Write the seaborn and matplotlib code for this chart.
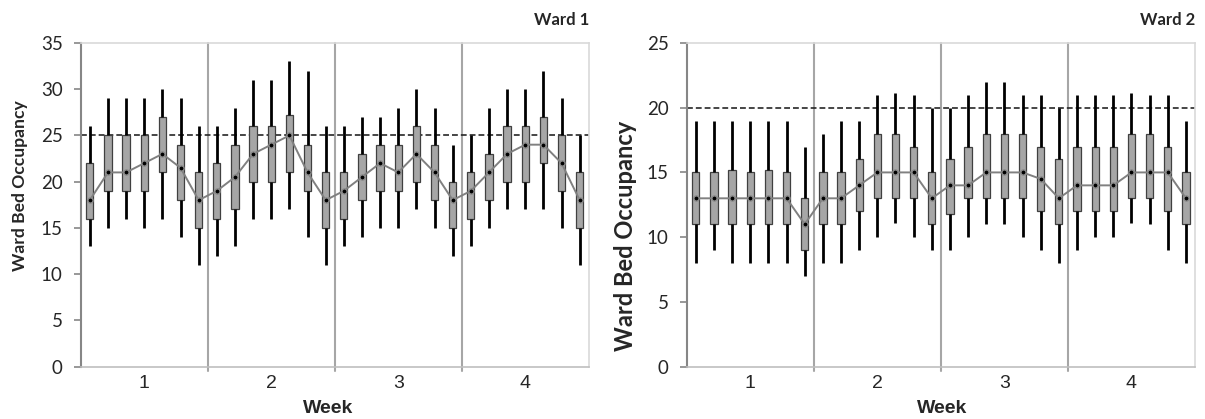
import numpy as np
import pandas as pd
import matplotlib.pyplot as plt
import seaborn as sns

weeks = ["1", "2", "3", "4"]
days = np.arange(28)

# Ward 1: min, lower quartile, median, upper quartile, max per day (4 weeks x 7 days)
w1_lo = [13, 15, 16, 15, 16, 14, 11,
         12, 13, 16, 16, 17, 14, 11,
         13, 14, 15, 15, 17, 15, 12,
         13, 15, 17, 17, 17, 15, 11]
w1_q1 = [16, 19, 19, 19, 21, 18, 15,
         16, 17, 20, 20, 21, 19, 15,
         16, 18, 19, 19, 20, 18, 15,
         16, 18, 20, 20, 22, 19, 15]
w1_med = [18, 21, 21, 22, 23, 21.5, 18,
          19, 20.5, 23, 24, 25, 21, 18,
          19, 20.5, 22, 21, 23, 21, 18,
          19, 21, 23, 24, 24, 22, 18]
w1_q3 = [22, 25, 25, 25, 27, 24, 21,
         22, 24, 26, 26, 27.25, 24, 21,
         21, 23, 24, 24, 26, 24, 20,
         21, 23, 26, 26, 27, 25, 21]
w1_hi = [26, 29, 29, 29, 30, 29, 26,
         26, 28, 31, 31, 33, 32, 26,
         26, 27, 27, 28, 30, 28, 24,
         25, 28, 30, 30, 32, 29, 25]

# Ward 2
w2_lo = [8, 9, 8, 8, 8, 8, 7,
         8, 8, 9, 10, 11.1, 10, 9,
         9, 10, 11, 11, 10, 9, 8,
         9, 10, 10, 11.1, 11, 9, 8]
w2_q1 = [11, 11, 11, 11, 11, 11, 9,
         11, 11, 12, 13, 13, 13, 11,
         11.8, 13, 13, 13, 13, 12, 11,
         12, 12, 12, 13, 13, 12, 11]
w2_med = [13, 13, 13, 13, 13, 13, 11,
          13, 13, 14, 15, 15, 15, 13,
          14, 14, 15, 15, 15, 14.5, 13,
          14, 14, 14, 15, 15, 15, 13]
w2_q3 = [15, 15, 15.2, 15, 15.2, 15, 13,
         15, 15, 16, 18, 18, 17, 15,
         16, 17, 18, 18, 18, 17, 16,
         17, 17, 17, 18, 18, 17, 15]
w2_hi = [19, 19, 19, 19, 19, 19, 17,
         18, 19, 19, 21, 21.1, 21, 20,
         20, 21, 22, 22, 21, 21, 20,
         21, 21, 21, 21.1, 21, 21, 19]

sns.set_style("white")
plt.rcParams['font.family'] = ['Lato', 'DejaVu Sans']


def long_table(lo, q1, med, q3, hi):
    rows = []
    for d in days:
        for v in (lo[d], q1[d], med[d], q3[d], hi[d]):
            rows.append({"day": d, "beds": v})
    return pd.DataFrame(rows)


def draw(ax, stats, limit, ymax, title, ylab_size, ylab_xy, xlab_x):
    df = long_table(*stats)
    med = stats[2]
    ax.axhline(limit, color="#262626", lw=1.2, ls=(0, (3.5, 1.8)), zorder=1)
    sns.boxplot(data=df, x="day", y="beds", ax=ax, color="#a6a6a6",
                width=0.4, whis=(0, 100), showcaps=False, showfliers=False,
                linecolor="#404040", linewidth=0.9,
                whiskerprops=dict(color="black", linewidth=2),
                medianprops=dict(linewidth=0))
    sns.lineplot(x=days, y=med, ax=ax, color="#808080", lw=1.4, zorder=4)
    sns.scatterplot(x=days, y=med, ax=ax, color="black", s=14,
                    edgecolor="#8c8c8c", linewidth=1, zorder=5)

    # week separators
    for xs in (6.5, 13.5, 20.5):
        ax.plot([xs, xs], [-0.012, 1], transform=ax.get_xaxis_transform(),
                color="#a6a6a6", lw=1.5, clip_on=False, zorder=0)

    ax.set_xlim(-0.5, 27.5)
    ax.set_ylim(0, ymax)
    ax.set_yticks(np.arange(0, ymax + 1, 5))
    ax.set_xticks([3, 10, 17, 24])
    ax.set_xticklabels(weeks, family="Liberation Sans", fontsize=14)
    ax.tick_params(axis="x", length=0, pad=6)
    ax.tick_params(axis="y", length=5, width=1.2, color="#868686",
                   pad=8, labelsize=13.5, left=True)

    for side in ("top", "right"):
        ax.spines[side].set_visible(True)
        ax.spines[side].set_color("#d9d9d9")
        ax.spines[side].set_linewidth(1.2)
    ax.spines["bottom"].set_color("#bfbfbf")
    ax.spines["bottom"].set_linewidth(1.2)
    ax.spines["left"].set_color("#868686")
    ax.spines["left"].set_linewidth(1.5)

    ax.set_xlabel("Week", family="Liberation Sans", fontweight="bold",
                  fontsize=14)
    ax.xaxis.set_label_coords(xlab_x, -0.102)
    ax.set_ylabel("Ward Bed Occupancy", fontweight="bold", fontsize=ylab_size)
    ax.yaxis.set_label_coords(*ylab_xy)
    ax.set_title(title, loc="right", fontweight="bold", fontsize=12, pad=13)


fig = plt.figure(figsize=(12.05, 4.19), dpi=100)
ax1 = fig.add_axes([0.067, 0.125, 0.4216, 0.7725])
ax2 = fig.add_axes([0.5699, 0.125, 0.4218, 0.7725])

draw(ax1, (w1_lo, w1_q1, w1_med, w1_q3, w1_hi), 25, 35, "Ward 1",
     12.6, (-0.1037, 0.558), 0.487)
draw(ax2, (w2_lo, w2_q1, w2_med, w2_q3, w2_hi), 20, 25, "Ward 2",
     17, (-0.0978, 0.404), 0.503)

fig.savefig("out.png", dpi=100)
